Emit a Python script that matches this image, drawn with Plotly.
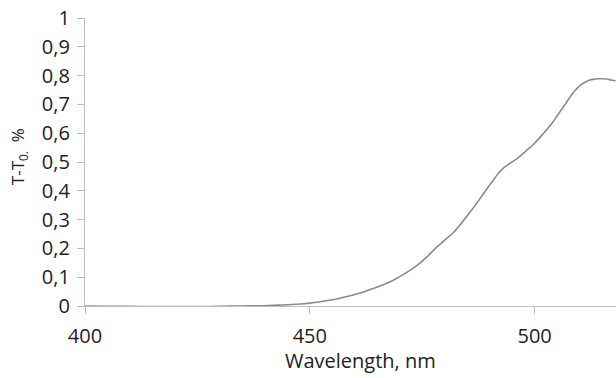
import plotly.graph_objects as go

wavelength = [400, 405, 410, 415, 420, 425, 430, 435, 440, 443, 446, 448,
              450, 452, 454, 456, 458, 460, 462, 464, 466, 468, 470, 472, 474, 476, 478,
              480, 482, 484, 486, 488, 490, 492, 493, 494, 496, 498, 500, 502, 504, 505,
              506, 507, 508, 509, 510, 511, 512, 513, 514, 515, 516, 517, 518]
signal = [0.000, -0.001, -0.001, -0.002, -0.002, -0.002, -0.001, 0.000, 0.001, 0.003, 0.005, 0.007,
          0.010, 0.014, 0.019, 0.024, 0.032, 0.040, 0.049, 0.060, 0.072, 0.085, 0.102, 0.121, 0.143, 0.170, 0.201,
          0.229, 0.256, 0.293, 0.333, 0.376, 0.420, 0.462, 0.478, 0.490, 0.511, 0.537, 0.565, 0.600, 0.637, 0.660,
          0.682, 0.705, 0.728, 0.748, 0.764, 0.775, 0.783, 0.787, 0.789, 0.789, 0.788, 0.785, 0.782]

x_ticks = [400, 450, 500]
x_title = "Wavelength, nm"
y_title = "T-T<sub>0.</sub>  %"

fig = go.Figure()
fig.add_trace(go.Scatter(x=wavelength, y=signal, mode="lines",
                         line=dict(color="#8a8a8a", width=1.6), showlegend=False,
                         line_shape="spline"))

font_family = "Open Sans, Lato, sans-serif"
fig.update_layout(
    width=616, height=378,
    margin=dict(l=85, r=0, t=18, b=72),
    paper_bgcolor="white", plot_bgcolor="white",
    separators=", ",
    font=dict(family=font_family, color="#222222"),
    xaxis=dict(range=[400, 518.1], tickvals=x_ticks, showgrid=False, zeroline=False,
               showline=True, linecolor="#bfbfbf", linewidth=1.2,
               ticks="outside", ticklen=7, tickcolor="#bfbfbf", tickwidth=1,
               ticklabelstandoff=5,
               tickfont=dict(size=20, color="#222222")),
    yaxis=dict(range=[0, 1], tick0=0, dtick=0.1, showgrid=False, zeroline=False,
               showline=True, linecolor="#bfbfbf", linewidth=1.2,
               ticks="outside", ticklen=7, tickcolor="#bfbfbf", tickwidth=1,
               ticklabelstandoff=3,
               tickfont=dict(size=20, color="#222222")),
    annotations=[
        dict(text=x_title, xref="paper", yref="paper", x=0.518, y=-0.188,
             xanchor="center", yanchor="middle", showarrow=False,
             font=dict(size=20, color="#222222")),
        dict(text=y_title, xref="paper", yref="paper", x=-0.126, y=0.517,
             xanchor="center", yanchor="middle", showarrow=False, textangle=-90,
             font=dict(size=17, color="#222222")),
    ],
)

fig.write_html("out.html")
